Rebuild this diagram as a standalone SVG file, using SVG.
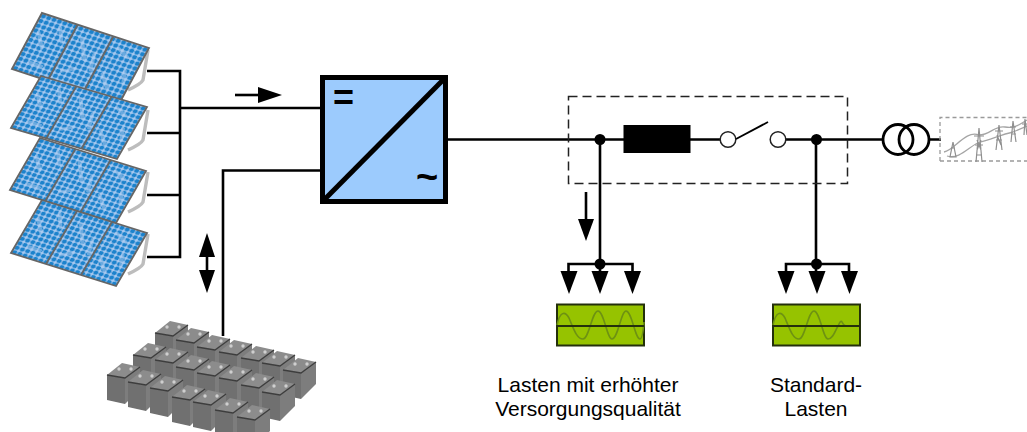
<svg xmlns="http://www.w3.org/2000/svg" width="1027" height="432" viewBox="0 0 1027 432">
<style>
.w{fill:none;stroke:#000;stroke-width:2.6}
.h{fill:#000}
.lbl{font-family:"Liberation Sans",Arial,sans-serif;font-size:21px;fill:#000;text-anchor:middle}
.sym{font-family:"Liberation Sans",Arial,sans-serif;font-weight:bold;fill:#000;text-anchor:middle}
.frame{fill:none;stroke:#666;stroke-width:1.9}
.br{fill:none;stroke:#bdbdbd;stroke-width:3.4}
.load{fill:#96c300;stroke:#24300c;stroke-width:2}
.wave{fill:none;stroke:#6e9212;stroke-width:1.6}
.py{fill:none;stroke:#8f8f8f;stroke-width:1.2}
.cab{fill:none;stroke:#a5a5a5;stroke-width:1.3}
.patch{fill:none;stroke:#b4cff2;stroke-width:3.500;stroke-linecap:round;opacity:.5}
</style>
<defs>
<filter id="soft" x="-5%" y="-5%" width="110%" height="110%"><feGaussianBlur stdDeviation=".5"/></filter>
<pattern id="cells" patternUnits="userSpaceOnUse" width="5.400" height="5.400">
<rect width="5.400" height="5.400" fill="#a9c9ef"/>
<circle cx="2.700" cy="2.700" r="2.300" fill="#1a82cc"/>
</pattern>
<g id="panel">
<rect width="108" height="64" fill="url(#cells)"/>
<path class="patch" d="M6 20L16 34M22 8L30 22M12 52H24M46 12L58 32M44 50L54 44M64 24L68 40M82 10L94 16M80 40L90 52M98 30L102 42"/>
<path d="M36 0V64M72 0V64" class="frame"/>
<rect width="108" height="64" class="frame"/>
</g>
<path id="bracket" d="M148 50L143 80Q141 84 128 90" class="br"/>
<g id="batt">
<path d="M0 0L18 3L18 29L0 25Z" fill="#6f6f6f"/>
<path d="M18 3L33 -8L33 14L18 29Z" fill="#7d7d7d"/>
<path d="M0 0L18 3L33 -8L15 -12Z" fill="#8c8c8c"/>
<path d="M0 0L18 3L33 -8" fill="none" stroke="#3e3e3e" stroke-width="1.400"/>
<circle cx="12" cy="-6" r="1.700" fill="#cfcfcf"/><circle cx="24" cy="-6" r="1.700" fill="#cfcfcf"/>
</g>
<path id="dn" d="M-8.500 0H8.500L0 23Z" class="h"/>
</defs>

<g id="pv-array" filter="url(#soft)">
<use href="#bracket"/>
<use href="#panel" transform="matrix(.99 .324 -.469 .875 42 13)"/>
<use href="#bracket" y="60"/>
<use href="#panel" transform="matrix(.981 .287 -.469 .812 41 76)"/>
<use href="#bracket" y="122"/>
<use href="#panel" transform="matrix(.981 .306 -.469 .812 40 138)"/>
<use href="#bracket" y="184"/>
<use href="#panel" transform="matrix(.972 .306 -.484 .828 42 200)"/>
</g>

<g id="battery-bank" filter="url(#soft)">
<use href="#batt" x="155" y="333"/><use href="#batt" x="176" y="340"/><use href="#batt" x="197" y="347"/><use href="#batt" x="219" y="352"/><use href="#batt" x="241" y="358"/><use href="#batt" x="262" y="363"/><use href="#batt" x="283" y="370"/>
<use href="#batt" x="133" y="355"/><use href="#batt" x="155" y="360"/><use href="#batt" x="176" y="367"/><use href="#batt" x="197" y="373"/><use href="#batt" x="219" y="378"/><use href="#batt" x="241" y="385"/><use href="#batt" x="262" y="392"/>
<use href="#batt" x="107" y="375"/><use href="#batt" x="128" y="382"/><use href="#batt" x="150" y="388"/><use href="#batt" x="172" y="397"/><use href="#batt" x="193" y="402"/><use href="#batt" x="215" y="410"/><use href="#batt" x="237" y="417"/>
</g>

<g id="connectors">
<path class="w" d="M147 71H180V257H147M147 133H180M147 195H180M180 108H321"/>
<path class="w" d="M223 336V170.500H321"/>
<path class="w" d="M446 139.500H624M690 139.500H720M786 139.500H883M930 139.500H941"/>
<path class="w" d="M600 139.500V264M568.500 272V264H632.500V272M600 264V272"/>
<path class="w" d="M816 139.500V264M786 272V264H849V272M816 264V272"/>
<path class="w" d="M235 95H262"/>
<path class="h" d="M258 87L282 95L258 103Z"/>
<path class="w" d="M207 250V280"/>
<path class="h" d="M199 257H215L207 233Z"/>
<path class="h" d="M199 270H215L207 293Z"/>
<path class="w" d="M586 192V222"/>
<path class="h" d="M578 219H594L586 241Z"/>
<g><circle cx="600" cy="139.500" r="5.500"/><circle cx="600" cy="264" r="5.500"/><circle cx="816.500" cy="139.500" r="5.500"/><circle cx="816.500" cy="264" r="5.500"/></g>
<use href="#dn" x="569" y="271"/><use href="#dn" x="600" y="271"/><use href="#dn" x="632.500" y="271"/>
<use href="#dn" x="786" y="271"/><use href="#dn" x="817" y="271"/><use href="#dn" x="849.500" y="271"/>
</g>

<g id="inverter">
<rect x="322.500" y="77.500" width="123" height="124" fill="#9ccbfd" stroke="#000" stroke-width="5"/>
<path d="M323 201L445 78" fill="none" stroke="#000" stroke-width="5"/>
<text class="sym" x="343.500" y="110" font-size="36">=</text>
<text class="sym" x="427" y="190" font-size="38">~</text>
</g>

<g id="dashed-box"><rect x="568.500" y="96.500" width="279" height="87" fill="none" stroke="#222" stroke-width="1.500" stroke-dasharray="9 5"/></g>

<g id="fuse"><rect x="623.500" y="125" width="67" height="28" class="h"/></g>

<g id="switch">
<circle cx="728" cy="139.500" r="7.800" fill="#fff" stroke="#222" stroke-width="1.500"/>
<circle cx="778" cy="139.500" r="7.800" fill="#fff" stroke="#222" stroke-width="1.500"/>
<path d="M736 139L768 122" fill="none" stroke="#000" stroke-width="1.800"/>
</g>

<g id="transformer" fill="none" stroke="#000" stroke-width="2.800">
<circle cx="898" cy="139.500" r="15"/><circle cx="914" cy="139.500" r="15"/>
</g>

<g id="grid">
<path d="M940 161V117.500H1027M940 161H1027" fill="none" stroke="#9a9a9a" stroke-width="1.300" stroke-dasharray="4 3"/>
<path class="cab" d="M944 152C955 150 965 130 979 135C990 135 995 125 1005 127S1020 124 1027 120"/>
<path class="cab" d="M947 156C960 160 970 145 980 142C990 140 1000 135 1013 132L1027 126"/>
<path class="py" d="M953 142L950 157H956ZM951 148H955"/>
<path class="py" d="M979 128L976 162M979 128L982 162M974 136H984M975 145H983M976 155H982M977 140L981 150M981 140L977 150"/>
<path class="py" d="M999 125L996 150M999 125L1002 150M995 131H1003M996 140H1002M997 135L1001 145"/>
<path class="py" d="M1013 121L1011 142M1013 121L1016 142M1010 127H1016M1011 134H1016"/>
<path class="py" d="M1025 119L1024 135M1025 119L1027 135M1022 124H1027"/>
</g>

<g id="load-premium">
<rect x="557" y="304.500" width="87" height="41" class="load"/>
<path class="wave" d="M557 325C560 311 565 311 569 318C574 330 577 339 583 339C589 339 592 311 598 311C604 311 607 339 612 339C618 339 621 311 626 311C632 311 635 339 640 339C642 339 643 334 644 322"/>
<path d="M557 326H644" stroke="#24300c" stroke-width="1.800"/>
</g>

<g id="load-standard">
<rect x="773" y="304.500" width="87" height="41" class="load"/>
<path class="wave" d="M773 325C776 311 781 311 785 318C790 330 793 339 799 339C805 339 808 311 814 311C820 311 823 339 828 339C833 339 835 331 838 326C840 322 841 320 842 322Q844 326 846 326"/>
<path d="M773 326H860" stroke="#24300c" stroke-width="1.800"/>
</g>

<g id="labels">
<text class="lbl" x="588" y="392">Lasten mit erhöhter</text>
<text class="lbl" x="588" y="416">Versorgungsqualität</text>
<text class="lbl" x="816" y="392">Standard-</text>
<text class="lbl" x="816" y="416">Lasten</text>
</g>
</svg>
